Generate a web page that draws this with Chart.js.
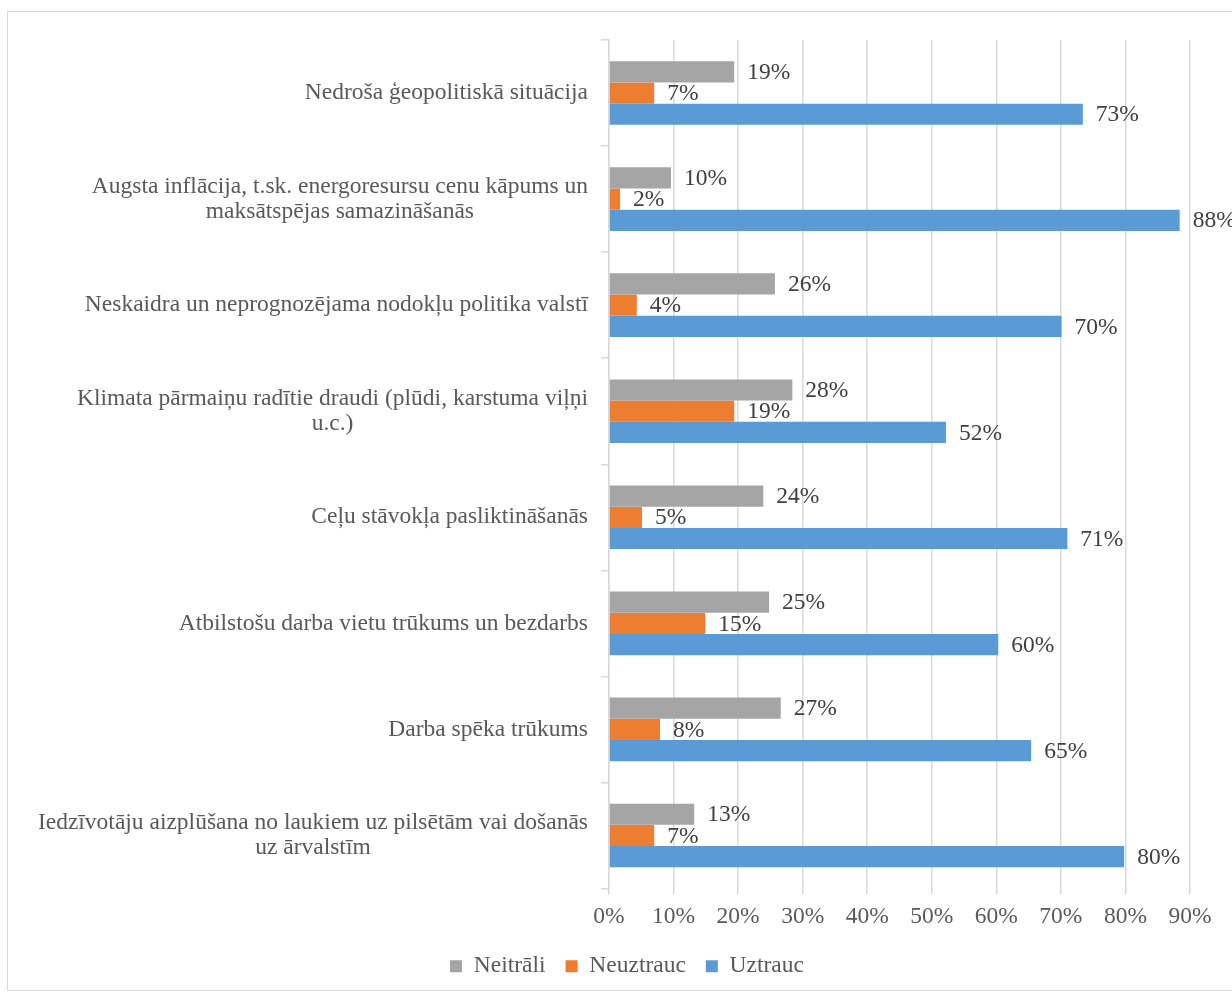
<!DOCTYPE html>
<html>
<head>
<meta charset="utf-8">
<script src="https://cdn.jsdelivr.net/npm/chart.js@4/dist/chart.umd.min.js"></script>
<style>
  html, body { margin: 0; padding: 0; background: #fff; }
  #wrap { position: relative; width: 1232px; height: 993px; }
</style>
</head>
<body>
<div id="wrap"><canvas id="myChart"></canvas></div>
<script>
// categories (multi-line ones split as in the original)
var categories = [
    ['Nedroša ģeopolitiskā situācija'],
    ['Augsta inflācija, t.sk. energoresursu cenu kāpums un', 'maksātspējas samazināšanās'],
    ['Neskaidra un neprognozējama nodokļu politika valstī'],
    ['Klimata pārmaiņu radītie draudi (plūdi, karstuma viļņi', 'u.c.)'],
    ['Ceļu stāvokļa pasliktināšanās'],
    ['Atbilstošu darba vietu trūkums un bezdarbs'],
    ['Darba spēka trūkums'],
    ['Iedzīvotāju aizplūšana no laukiem uz pilsētām vai došanās', 'uz ārvalstīm']
];

// percent values
var neitrali  = [19.4, 9.6, 25.7, 28.4, 23.9, 24.8, 26.6, 13.2];
var neuztrauc = [7.0, 1.7, 4.3, 19.4, 5.1, 14.9, 7.9, 7.0];
var uztrauc   = [73.4, 88.4, 70.1, 52.2, 71.0, 60.3, 65.4, 79.8];

var xTicks = [0, 10, 20, 30, 40, 50, 60, 70, 80, 90];

var FONT = '"Liberation Serif", "Times New Roman", serif';
var FSIZE = 23.5;
var GRID = '#d9d9d9';

// white background + outer frame
var framePlugin = {
    id: 'frame',
    beforeDraw: function(chart) {
        var c = chart.ctx;
        c.save();
        c.fillStyle = '#fff';
        c.fillRect(0, 0, chart.width, chart.height);
        c.strokeStyle = GRID;
        c.lineWidth = 1;
        c.strokeRect(7.5, 11.5, chart.width + 20, chart.height - 14);
        c.restore();
    }
};

// legend sits a little right of centre in the original
var legendShift = {
    id: 'legendShift',
    afterUpdate: function(chart) {
        chart.legend.left += 28;
        chart.legend.right += 28;
    }
};

// category labels: right aligned block, lines centered inside the block
var catLabels = {
    id: 'catLabels',
    afterDraw: function(chart) {
        var c = chart.ctx;
        var ys = chart.scales.y;
        var right = chart.chartArea.left - 21;
        c.save();
        c.font = FSIZE + 'px ' + FONT;
        c.fillStyle = '#595959';
        c.textAlign = 'center';
        c.textBaseline = 'middle';
        chart.data.labels.forEach(function(lines, i) {
            var maxW = 0;
            lines.forEach(function(l) { maxW = Math.max(maxW, c.measureText(l).width); });
            var cx = right - maxW / 2;
            var y0 = ys.getPixelForValue(i) - (lines.length - 1) * 25 / 2;
            lines.forEach(function(l, k) {
                c.fillText(l, cx, y0 + k * 25);
            });
        });
        c.restore();
    }
};

// value labels at the end of each bar
var valueLabels = {
    id: 'valueLabels',
    afterDatasetsDraw: function(chart) {
        var c = chart.ctx;
        c.save();
        c.font = FSIZE + 'px ' + FONT;
        c.fillStyle = '#404040';
        c.textAlign = 'left';
        c.textBaseline = 'middle';
        chart.data.datasets.forEach(function(ds, di) {
            chart.getDatasetMeta(di).data.forEach(function(bar, i) {
                c.fillText(Math.round(ds.data[i]) + '%', bar.x + 13, bar.y + 1);
            });
        });
        c.restore();
    }
};

const ctx = document.getElementById('myChart');

var graphData = {
    type: 'bar',
    data: {
        labels: categories,
        datasets: [
            {
                label: 'Neitrāli',
                data: neitrali,
                backgroundColor: '#a5a5a5',
            },
            {
                label: 'Neuztrauc',
                data: neuztrauc,
                backgroundColor: '#ed7d31',
            },
            {
                label: 'Uztrauc',
                data: uztrauc,
                backgroundColor: '#5b9bd5',
            },
        ]
    },
    options: {
        indexAxis: 'y',
        responsive: true,
        maintainAspectRatio: false,
        animation: false,
        devicePixelRatio: 1,
        categoryPercentage: 0.6,
        barPercentage: 1.0,
        layout: {
            padding: { left: 8, top: 40, right: 42, bottom: 5 }
        },
        plugins: {
            tooltip: { enabled: false },
            legend: {
                position: 'bottom',
                labels: {
                    font: { family: FONT, size: FSIZE },
                    color: '#595959',
                    boxWidth: 12,
                    boxHeight: 12,
                    padding: 20,
                }
            }
        },
        scales: {
            x: {
                type: 'linear',
                min: 0,
                max: 90,
                afterBuildTicks: function(s) {
                    s.ticks = xTicks.map(function(v) { return { value: v }; });
                },
                ticks: {
                    font: { family: FONT, size: FSIZE },
                    color: '#595959',
                    padding: 8,
                    callback: function(v) { return v + '%'; }
                },
                grid: {
                    color: GRID,
                    lineWidth: 1.5,
                    tickLength: 6,
                },
                border: { display: false },
                afterFit: function(s) { s.height = 46; }
            },
            y: {
                type: 'category',
                ticks: { display: false },
                grid: {
                    offset: true,
                    drawOnChartArea: false,
                    color: GRID,
                    lineWidth: 1.5,
                    tickLength: 8,
                },
                border: { color: GRID, width: 1.5 },
                afterFit: function(s) { s.width = 601; }
            }
        }
    },
    plugins: [framePlugin, legendShift, catLabels, valueLabels]
};

var myChart = new Chart(ctx, graphData);
</script>
</body>
</html>
